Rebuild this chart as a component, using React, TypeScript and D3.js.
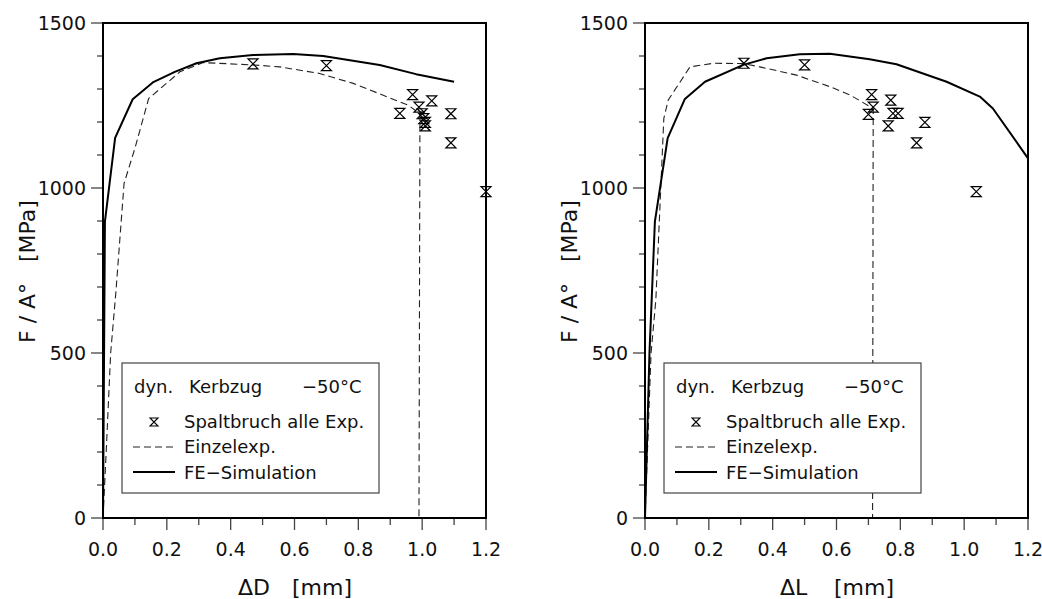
import React from "react";
import * as d3 from "d3";

// ---------- data ----------
const xTicksMajor = [0, 0.2, 0.4, 0.6, 0.8, 1.0, 1.2];
const yTicksMajor = [0, 500, 1000, 1500];

const leftSimulation: [number, number][] = [
  [0, 0], [0.006, 898], [0.038, 1152], [0.093, 1269], [0.156, 1320], [0.225, 1352],
  [0.293, 1378], [0.366, 1393], [0.47, 1403], [0.596, 1406], [0.69, 1400],
  [0.867, 1373], [0.981, 1345], [1.1, 1322],
];
const leftSingleExp: [number, number][] = [
  [0, 0], [0.01, 200], [0.024, 500], [0.04, 680], [0.066, 1014], [0.1, 1120],
  [0.143, 1271], [0.241, 1352], [0.314, 1380], [0.47, 1373], [0.554, 1367],
  [0.679, 1347], [0.784, 1317], [0.956, 1251], [0.993, 1225], [0.99, 0],
];
const leftCleavage: [number, number][] = [
  [0.47, 1376], [0.7, 1371], [0.97, 1283], [0.93, 1226], [0.99, 1245], [1.03, 1264],
  [1.0, 1225], [1.005, 1210], [1.01, 1199], [1.01, 1188], [1.09, 1225], [1.09, 1137],
  [1.2, 989],
];

const rightSimulation: [number, number][] = [
  [0, 0], [0.014, 500], [0.031, 898], [0.071, 1151], [0.125, 1270], [0.188, 1322],
  [0.308, 1373], [0.381, 1393], [0.485, 1405], [0.579, 1407], [0.704, 1390],
  [0.788, 1375], [0.945, 1322], [1.049, 1277], [1.09, 1241], [1.2, 1090],
];
const rightSingleExp: [number, number][] = [
  [0, 0], [0.019, 500], [0.034, 661], [0.059, 1211], [0.073, 1267], [0.141, 1367],
  [0.214, 1378], [0.308, 1377], [0.36, 1367], [0.475, 1342], [0.579, 1307],
  [0.642, 1282], [0.715, 1241], [0.713, 0],
];
const rightCleavage: [number, number][] = [
  [0.31, 1378], [0.5, 1373], [0.71, 1283], [0.715, 1245], [0.7, 1223], [0.77, 1266],
  [0.777, 1226], [0.793, 1226], [0.762, 1188], [0.877, 1199], [0.851, 1137],
  [1.038, 989],
];

const legendTitle = ["dyn.", "Kerbzug", "\u221250\u00b0C"];
const legendLabels = ["Spaltbruch alle Exp.", "Einzelexp.", "FE\u2212Simulation"];
const yLabelParts = ["F / A\u00b0", "[MPa]"];

// ---------- layout ----------
const FONT = "'DejaVu Sans', sans-serif";
const TOP = 23;
const BOTTOM = 518;
const PW = 383;

const hourglass = (s: number) =>
  `M${-s},${-s}H${s}L${-s},${s}H${s}Z`;

type PanelProps = {
  x0: number;
  xLabelSym: string;
  sim: [number, number][];
  single: [number, number][];
  pts: [number, number][];
};

function Panel({ x0, xLabelSym, sim, single, pts }: PanelProps) {
  const x = d3.scaleLinear().domain([0, 1.2]).range([x0, x0 + PW]);
  const y = d3.scaleLinear().domain([0, 1500]).range([BOTTOM, TOP]);
  const line = d3
    .line<[number, number]>()
    .x((d) => x(d[0]))
    .y((d) => y(d[1]));
  const xMinor = d3.range(0, 13).map((i) => i / 10);
  const yMinor = d3.range(0, 16).map((i) => i * 100);
  const lx = x0 + 19;
  return (
    <g>
      {/* ticks */}
      {yMinor.map((v) => (
        <line key={"ym" + v} x1={x0 - (v % 500 === 0 ? 12 : 6)} x2={x0} y1={y(v)} y2={y(v)} stroke="#444" strokeWidth={1.3} />
      ))}
      {xMinor.map((v, i) => (
        <line key={"xm" + i} x1={x(v)} x2={x(v)} y1={BOTTOM} y2={BOTTOM + (i % 2 === 0 ? 12 : 7)} stroke="#444" strokeWidth={1.3} />
      ))}
      {yTicksMajor.map((v) => (
        <text key={"yl" + v} x={x0 - 17} y={y(v)} dy="0.36em" textAnchor="end" fontSize={19} fontFamily={FONT} fill="#111">
          {v}
        </text>
      ))}
      {xTicksMajor.map((v) => (
        <text key={"xl" + v} x={x(v)} y={556} textAnchor="middle" fontSize={19} fontFamily={FONT} fill="#111">
          {v.toFixed(1)}
        </text>
      ))}
      {/* axis labels */}
      <text y={595} fontSize={22} fontFamily={FONT} fill="#111">
        <tspan x={x0 + 135}>{"\u0394" + xLabelSym}</tspan>
        <tspan x={x0 + 189}>[mm]</tspan>
      </text>
      <text transform={`translate(${x0 - 68},270) rotate(-90)`} fontSize={22} fontFamily={FONT} fill="#111">
        <tspan x={-73}>{yLabelParts[0]}</tspan>
        <tspan x={8}>{yLabelParts[1]}</tspan>
      </text>
      {/* curves */}
      <path d={line(single) || ""} fill="none" stroke="#222" strokeWidth={1.1} strokeDasharray="7,4" />
      <path d={line(sim) || ""} fill="none" stroke="#000" strokeWidth={2} strokeLinejoin="round" />
      {pts.map((p, i) => (
        <path key={"p" + i} d={hourglass(5)} transform={`translate(${x(p[0])},${y(p[1])})`} fill="none" stroke="#000" strokeWidth={1.2} />
      ))}
      {/* frame */}
      <rect x={x0} y={TOP} width={PW} height={BOTTOM - TOP} fill="none" stroke="#000" strokeWidth={2} />
      {/* legend */}
      <rect x={lx} y={363} width={257} height={130} fill="#fff" stroke="#444" strokeWidth={1.2} />
      <text y={393} fontSize={18} fontFamily={FONT} fill="#111">
        <tspan x={x0 + 31}>{legendTitle[0]}</tspan>
        <tspan x={x0 + 86}>{legendTitle[1]}</tspan>
        <tspan x={x0 + 199}>{legendTitle[2]}</tspan>
      </text>
      <path d={hourglass(4)} transform={`translate(${x0 + 51},422)`} fill="none" stroke="#000" strokeWidth={1.1} />
      <text x={x0 + 81} y={428} fontSize={18} fontFamily={FONT} fill="#111">{legendLabels[0]}</text>
      <line x1={x0 + 30} x2={x0 + 72} y1={447} y2={447} stroke="#222" strokeWidth={1.1} strokeDasharray="7,4" />
      <text x={x0 + 81} y={453} fontSize={18} fontFamily={FONT} fill="#111">{legendLabels[1]}</text>
      <line x1={x0 + 30} x2={x0 + 72} y1={472} y2={472} stroke="#000" strokeWidth={2} />
      <text x={x0 + 81} y={479} fontSize={18} fontFamily={FONT} fill="#111">{legendLabels[2]}</text>
    </g>
  );
}

export default function App() {
  return (
    <svg width={1042} height={599} style={{ position: "absolute", left: 0, top: 0, background: "#fff" }}>
      <rect width={1042} height={599} fill="#fff" />
      <Panel x0={103} xLabelSym="D" sim={leftSimulation} single={leftSingleExp} pts={leftCleavage} />
      <Panel x0={645} xLabelSym="L" sim={rightSimulation} single={rightSingleExp} pts={rightCleavage} />
    </svg>
  );
}
